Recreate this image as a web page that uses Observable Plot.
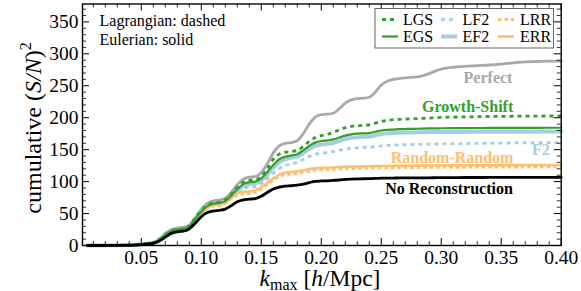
<!DOCTYPE html>
<html><head><meta charset="utf-8">
<script src="https://cdn.jsdelivr.net/npm/d3@7"></script>
<script src="https://cdn.jsdelivr.net/npm/@observablehq/plot@0.6"></script>
<style>
body{margin:0;background:#fff;}
</style></head><body><div id="wrap"></div>
<script>
// ---- data ----
const kmax = [0.005,0.03,0.045,
0.05,0.055,0.06,0.065,0.07,0.075,0.08,0.085,0.09,0.095,
0.10,0.105,0.11,0.115,0.12,0.125,0.13,0.135,0.14,0.145,
0.15,0.155,0.16,0.165,0.17,0.175,0.18,0.185,0.19,0.195,
0.20,0.205,0.21,0.215,0.22,0.225,0.23,0.235,0.24,0.245,
0.25,0.255,0.26,0.265,0.27,0.275,0.28,0.285,0.29,0.295,
0.30,
0.31,0.32,0.33,0.34,0.35,0.36,0.37,0.38,0.39,0.40];

const perfect = [0,0.3,1.2,
2,3,4.5,10,19,25,27.5,28.5,32,44,
57,66,70,71,74,83,95,104,107,108,
114,128,145,156,160,161,164,175,190,201,
205,205.5,207,214,223,228,230,230.5,232,240,
251,257,260,261.5,262.5,263,264,266,269,273,
276,
279,280.5,281.5,282.5,284,286,287.5,288,288.5,288.5];

const noRecon = [0,0.2,0.8,
1.5,2.5,3.5,7,13,19,21.5,22.5,26,35,
45,51.5,54,55,57,62.5,68.5,71.5,72.5,73.5,
77,83,88.5,91.5,93,93.5,94.5,96,98.5,100.5,
101,101.3,101.8,102.5,103.5,104,104.3,104.5,104.7,105,
105.3,105.5,105.6,105.7,105.8,105.8,105.9,106,106,106.1,
106.2,
106.3,106.4,106.4,106.5,106.5,106.6,106.6,106.7,106.7,106.7];

const eRR = [0,0.25,1,
1.8,2.8,4,8.5,16,22,24.5,25.5,29,40,
51,59,63,64,67,75,82,84,84.5,86,
91,98,105,111,114,115,116,117.5,119.5,121,
121.5,121.8,122.2,122.7,123.1,123.4,123.6,123.8,124,124.2,
124.4,124.5,124.6,124.7,124.8,124.9,125,125.1,125.2,125.2,
125.3,
125.4,125.5,125.6,125.7,125.7,125.8,125.9,126,126,126];

const lRR = [0,0.25,1,
1.8,2.8,4,8.5,16,22,24.5,25.5,28.5,39.5,
49.5,57.5,61.5,62.5,65.5,73.5,79,81,81.5,83,
88,95,102,108,111,112,113,114.5,116.5,118,
118.5,118.8,119.2,119.7,120.1,120.4,120.6,120.8,121,121.2,
121.4,121.5,121.6,121.7,121.8,121.9,122,122.1,122.2,122.2,
122.3,
122.4,122.5,122.6,122.7,122.7,122.8,122.9,123,123,123];

const eGS = [0,0.25,1,
1.9,2.9,4.2,9,17,23,25.5,26.5,30,42,
53,61.5,65.5,66.5,69.5,78,88,96,99,100,
105,115,126,135,139,141,143,149,156,161,
163.5,164.5,166,169,172,174,175,175.5,176,178,
180,181,181.5,182,182.3,182.5,182.7,183,183.2,183.4,
183.5,
183.7,183.8,183.9,184,184,184.1,184.2,184.2,184.3,184.3];

const lGS = [0,0.25,1,
1.9,2.9,4.2,9,17,23,25.5,26.5,30.5,43,
54.5,63,67,68,71.5,80.5,91,99,102,103,
108,120,135,143,146,147,149,155,163,169,
172,174,177,181,184.5,186.5,187.5,188,189,191.5,
194,196,197,197.5,198,198.3,198.6,199,199.5,200,
200.5,
201,201.3,201.6,201.9,202.1,202.3,202.5,202.6,202.7,202.7];

const eF2 = [0,0.25,1,
1.9,2.9,4.2,9,17,23,25.3,26.3,29.8,41.5,
52.5,61,65,66,68.5,76,85.5,93,96,97,
101.5,111,121.5,130.5,135,137.4,139,144.5,151,156,
158,159,160.5,163.5,166.5,168.5,169.5,170,170.5,172.5,
174.5,175.5,176,176.4,176.7,176.9,177.1,177.3,177.5,177.6,
177.7,
177.8,177.9,178,178,178.1,178.1,178.2,178.2,178.3,178.3];

const lF2 = [0,0.25,1,
1.9,2.9,4.2,9,16.8,22.7,25,26,29.4,41,
52,60.5,64,65,67.5,74.5,83,89,91,92,
96.5,104.5,113,120.5,125,128,130,134.5,139.5,143,
144.7,145.5,147,149,151,152.3,153,153.4,153.8,155,
156,156.7,157.1,157.5,157.8,158,158.2,158.4,158.6,158.8,
159,
159.3,159.6,159.9,160.1,160.3,160.5,160.7,160.8,160.9,161];

const xMajorTicks = [0.05,0.10,0.15,0.20,0.25,0.30,0.35,0.40];
const yMajorTicks = [0,50,100,150,200,250,300,350];
const legendLabels = ["LGS","LF2","LRR","EGS","EF2","ERR"];
const curveLabels = ["Perfect","Growth-Shift","F2","Random-Random","No Reconstruction"];
const curveLabelK = [0.339,0.322,0.383,0.309,0.3065];
const curveLabelV = [263,217,149,137,89];

// ---- styles ----
const FONT = "Liberation Serif";
const C = {gray:"#a9a9a9", green:"#33a02c", blue:"#a6cee3", orange:"#fdbf6f", black:"#000"};
const series = [
  {name:"Perfect", values:perfect, stroke:C.gray, w:2.8},
  {name:"EF2", values:eF2, stroke:C.blue, w:4},
  {name:"LF2", values:lF2, stroke:C.blue, w:2.8, dash:"4,4"},
  {name:"ERR", values:eRR, stroke:C.orange, w:2.6},
  {name:"LRR", values:lRR, stroke:C.orange, w:2.8, dash:"3.5,3"},
  {name:"EGS", values:eGS, stroke:C.green, w:2.2},
  {name:"LGS", values:lGS, stroke:C.green, w:2.8, dash:"4,4"},
  {name:"No Reconstruction", values:noRecon, stroke:C.black, w:2.8}
];
const labelColors = [C.gray, C.green, C.blue, C.orange, C.black];

const W = 581, H = 291;
const mT = 3.5, mR = 20.3, mB = 46, mL = 82;
const fw = W - mL - mR, fh = H - mT - mB;

const xMinor = d3.range(1, 40).map(i => i / 100).filter(v => Math.round(v * 100) % 5 !== 0);
const yMinor = d3.range(10, 380, 10).filter(v => v % 50 !== 0);

const lineMarks = series.map(s => Plot.line(kmax.map((k, i) => ({k, v: s.values[i]})), {
  x: "k", y: "v", stroke: s.stroke, strokeWidth: s.w,
  strokeDasharray: s.dash || null, strokeLinecap: s.dash ? "butt" : "round",
  curve: "monotone-x"
}));

const labelMarks = curveLabels.map((t, i) => Plot.text([{k: curveLabelK[i], v: curveLabelV[i], t}], {
  x: "k", y: "v", text: "t", fill: labelColors[i], fontWeight: "bold", fontSize: 16,
  fontFamily: FONT
}));

const chart = Plot.plot({
  width: W, height: H,
  marginTop: mT, marginRight: mR, marginBottom: mB, marginLeft: mL,
  x: {domain: [0.001, 0.40]},
  y: {domain: [0, 378]},
  marks: [
    ...lineMarks,
    ...labelMarks,
    Plot.ruleX(xMajorTicks, {x: d => d, insetTop: fh - 7, stroke: "#000", strokeWidth: 1}),
    Plot.ruleX(xMajorTicks, {x: d => d, insetBottom: fh - 7, stroke: "#000", strokeWidth: 1}),
    Plot.ruleX(xMinor, {x: d => d, insetTop: fh - 4, stroke: "#000", strokeWidth: 0.8}),
    Plot.ruleX(xMinor, {x: d => d, insetBottom: fh - 4, stroke: "#000", strokeWidth: 0.8}),
    Plot.ruleY(yMajorTicks, {y: d => d, insetRight: fw - 7, stroke: "#000", strokeWidth: 1}),
    Plot.ruleY(yMajorTicks, {y: d => d, insetLeft: fw - 7, stroke: "#000", strokeWidth: 1}),
    Plot.ruleY(yMinor, {y: d => d, insetRight: fw - 4, stroke: "#000", strokeWidth: 0.8}),
    Plot.ruleY(yMinor, {y: d => d, insetLeft: fw - 4, stroke: "#000", strokeWidth: 0.8}),
    Plot.axisX({ticks: xMajorTicks, tickSize: 0, tickPadding: 5, tickFormat: d => d.toFixed(2), label: null, fontFamily: FONT, fontSize: 19.5, fill: "#000"}),
    Plot.axisY({ticks: yMajorTicks, tickSize: 0, tickPadding: 4, label: null, fontFamily: FONT, fontSize: 19.5, fill: "#000"}),
    Plot.frame({stroke: "#000", strokeWidth: 1.4})
  ]
});
document.getElementById("wrap").appendChild(chart);

// ---- text & legend overlays ----
const svg = d3.select(chart);
function addText(parent, x, y, size) {
  return parent.append("text").attr("x", x).attr("y", y).attr("font-size", size)
    .attr("font-family", FONT).attr("fill", "#000").attr("text-anchor", "start");
}
// y label
const yl = svg.append("text").attr("transform", `translate(41,128) rotate(-90)`)
  .attr("text-anchor", "middle").attr("font-size", 24).attr("font-family", FONT).attr("fill", "#000");
yl.append("tspan").text("cumulative (");
yl.append("tspan").attr("font-style", "italic").text("S/N");
yl.append("tspan").text(")");
yl.append("tspan").attr("font-size", 16).attr("dy", -10).text("2");
// x label
const xl = svg.append("text").attr("x", 320).attr("y", 285.5)
  .attr("text-anchor", "middle").attr("font-size", 23.5).attr("font-family", FONT).attr("fill", "#000");
xl.append("tspan").attr("font-style", "italic").text("k");
xl.append("tspan").attr("font-size", 16).attr("dy", 4).text("max");
xl.append("tspan").attr("dy", -4).text(" [");
xl.append("tspan").attr("font-style", "italic").text("h");
xl.append("tspan").text("/Mpc]");
// top-left note
addText(svg, 99.5, 26, 16).text("Lagrangian: dashed");
addText(svg, 99.5, 45, 16).text("Eulerian: solid");
// legend
const lg = svg.append("g");
lg.append("rect").attr("x", 375).attr("y", 8.5).attr("width", 178.5).attr("height", 39.5)
  .attr("fill", "#fff").attr("fill-opacity", 0.85).attr("stroke", "#555").attr("stroke-width", 0.9);
const legStyle = {
  LGS: series[6], LF2: series[2], LRR: series[4], EGS: series[5], EF2: series[1], ERR: series[3]
};
const colX = [382, 441, 498], textX = [403, 462.5, 520], rowY = [19.5, 36.5];
legendLabels.forEach((name, i) => {
  const c = i % 3, r = Math.floor(i / 3), s = legStyle[name];
  lg.append("line").attr("x1", colX[c]).attr("x2", colX[c] + 16).attr("y1", rowY[r]).attr("y2", rowY[r])
    .attr("stroke", s.stroke).attr("stroke-width", s.w).attr("stroke-dasharray", s.dash || null);
  addText(lg, textX[c], rowY[r], 16).attr("dy", "0.35em").text(name);
});
</script></body></html>
